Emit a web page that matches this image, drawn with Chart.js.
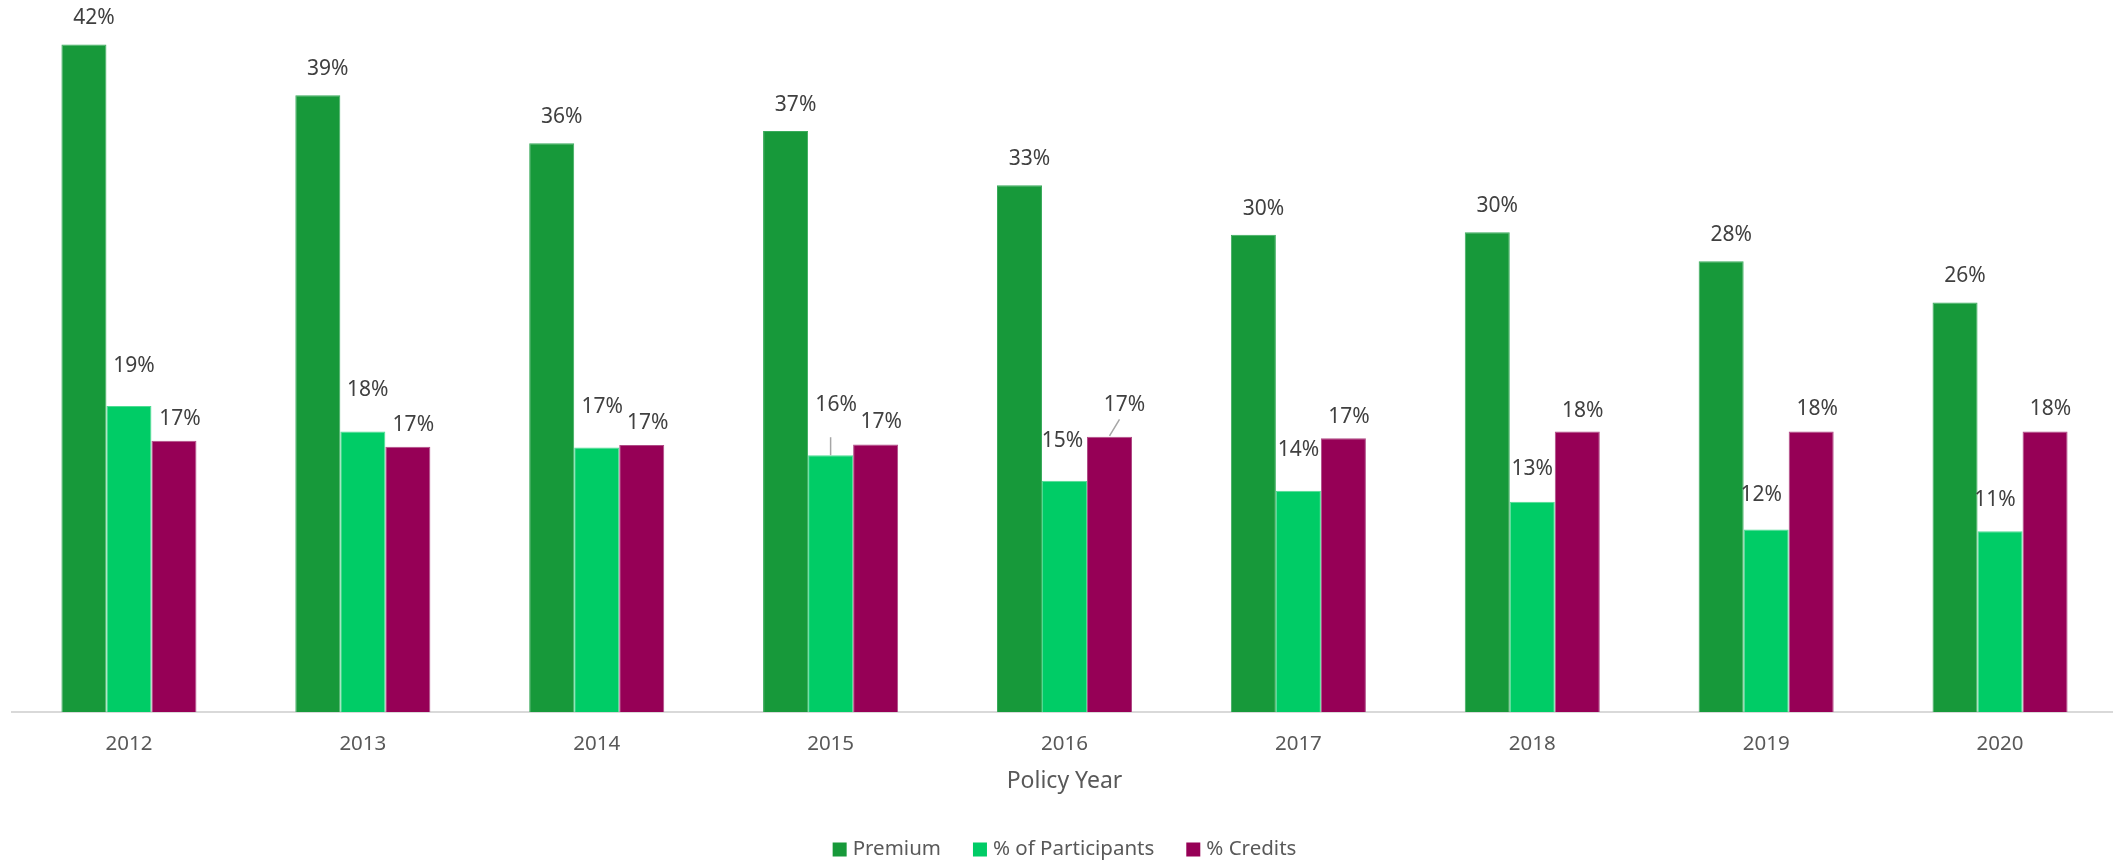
<!DOCTYPE html>
<html>
<head>
<meta charset="utf-8">
<script src="https://cdn.jsdelivr.net/npm/chart.js@4.4.1/dist/chart.umd.min.js"></script>
<style>
  html, body { margin: 0; padding: 0; background: #ffffff; overflow: hidden; }
  #wrap { width: 2117px; height: 862px; }
</style>
</head>
<body>
<div id="wrap"><canvas id="c" width="2117" height="862"></canvas></div>
<script>
// ---- data ----
const categories = ['2012', '2013', '2014', '2015', '2016', '2017', '2018', '2019', '2020'];
const seriesNames = ['Premium', '% of Participants', '% Credits'];
const premium      = [0.4214, 0.3894, 0.3590, 0.3667, 0.3326, 0.3012, 0.3029, 0.2845, 0.2585];
const participants = [0.1931, 0.1771, 0.1669, 0.1621, 0.1460, 0.1396, 0.1328, 0.1152, 0.1141];
const credits      = [0.1712, 0.1674, 0.1686, 0.1689, 0.1737, 0.1728, 0.1770, 0.1771, 0.1771];
const yMax = 0.44;
const xTitle = 'Policy Year';

// ---- label placement (offsets relative to bar centre / bar top, in px) ----
const labelDx = [
  [10, 10, 10, 10, 10, 10, 10, 10, 10],
  [5, 5, 5.5, 5.5, -2, 0, 0, -5, -5],
  [6, 5.5, 6, 5.5, 15, 5.5, 5.5, 6, 5.5]
];
const labelDy = [
  [26, 26, 26, 26, 26, 26, 26, 26, 26],
  [40, 41, 40.5, 50, 40, 40.5, 33, 34, 31],
  [21.5, 21.5, 22, 22, 32, 21.5, 21, 22, 22]
];
const leaderLines = [
  { series: 1, index: 3, from: [0, -18], to: [0, 0] },
  { series: 2, index: 4, from: [10, -17.5], to: [0, -1] }
];

const colors = ['#17993a', '#00cc66', '#960056'];
const borders = ['#3aab5c', '#4fdc93', '#b04b86'];
const FONT = '"Noto Sans", "Open Sans", sans-serif';

const dataLabelPlugin = {
  id: 'dataLabels',
  afterDatasetsDraw(chart) {
    const ctx = chart.ctx;
    ctx.save();
    ctx.strokeStyle = '#a6a6a6';
    ctx.lineWidth = 1.5;
    leaderLines.forEach(l => {
      const el = chart.getDatasetMeta(l.series).data[l.index];
      ctx.beginPath();
      ctx.moveTo(el.x + l.from[0], el.y + l.from[1]);
      ctx.lineTo(el.x + l.to[0], el.y + l.to[1]);
      ctx.stroke();
    });
    ctx.font = '21px ' + FONT;
    ctx.fillStyle = '#404040';
    ctx.textAlign = 'center';
    ctx.textBaseline = 'middle';
    chart.data.datasets.forEach((ds, i) => {
      const meta = chart.getDatasetMeta(i);
      meta.data.forEach((el, j) => {
        const txt = Math.round(ds.data[j] * 100) + '%';
        ctx.fillText(txt, el.x + labelDx[i][j], el.y - labelDy[i][j]);
      });
    });
    ctx.restore();
  }
};

const legendPlugin = {
  id: 'customLegend',
  afterDraw(chart) {
    const ctx = chart.ctx;
    const ca = chart.chartArea;
    ctx.save();
    ctx.font = '20.5px ' + FONT;
    const box = 14, gap = 6, itemGap = 32;
    const widths = seriesNames.map(n => ctx.measureText(n).width);
    let total = 0;
    widths.forEach((w, i) => { total += box + gap + w + (i < widths.length - 1 ? itemGap : 0); });
    let x = (ca.left + ca.right) / 2 - total / 2;
    const cy = 849.5;
    ctx.textBaseline = 'middle';
    ctx.textAlign = 'left';
    seriesNames.forEach((n, i) => {
      ctx.fillStyle = colors[i];
      ctx.fillRect(x, cy - box / 2, box, box);
      ctx.fillStyle = '#595959';
      ctx.fillText(n, x + box + gap, cy);
      x += box + gap + widths[i] + itemGap;
    });
    ctx.restore();
  }
};

new Chart(document.getElementById('c'), {
  type: 'bar',
  data: {
    labels: categories,
    datasets: [
      { label: seriesNames[0], data: premium, backgroundColor: colors[0], borderColor: borders[0], borderWidth: 1 },
      { label: seriesNames[1], data: participants, backgroundColor: colors[1], borderColor: borders[1], borderWidth: 1 },
      { label: seriesNames[2], data: credits, backgroundColor: colors[2], borderColor: borders[2], borderWidth: 1 }
    ]
  },
  options: {
    responsive: false,
    devicePixelRatio: 1,
    animation: false,
    layout: { padding: { top: 15, left: 12, right: 0, bottom: 0 } },
    plugins: { legend: { display: false }, tooltip: { enabled: false } },
    datasets: { bar: { categoryPercentage: 0.5774, barPercentage: 1.0 } },
    scales: {
      x: {
        grid: { display: false, drawTicks: false },
        border: { display: true, color: '#d9d9d9', width: 2 },
        ticks: { color: '#595959', padding: 19.5, font: { family: FONT, size: 20.5 } },
        title: { display: true, text: xTitle, color: '#595959', font: { family: FONT, size: 23 }, padding: { top: 0, bottom: 66.5 } },
        afterFit: (s) => { s.height = 150; }
      },
      y: {
        display: false,
        min: 0,
        max: yMax,
        grid: { display: false }
      }
    }
  },
  plugins: [dataLabelPlugin, legendPlugin]
});
</script>
</body>
</html>
